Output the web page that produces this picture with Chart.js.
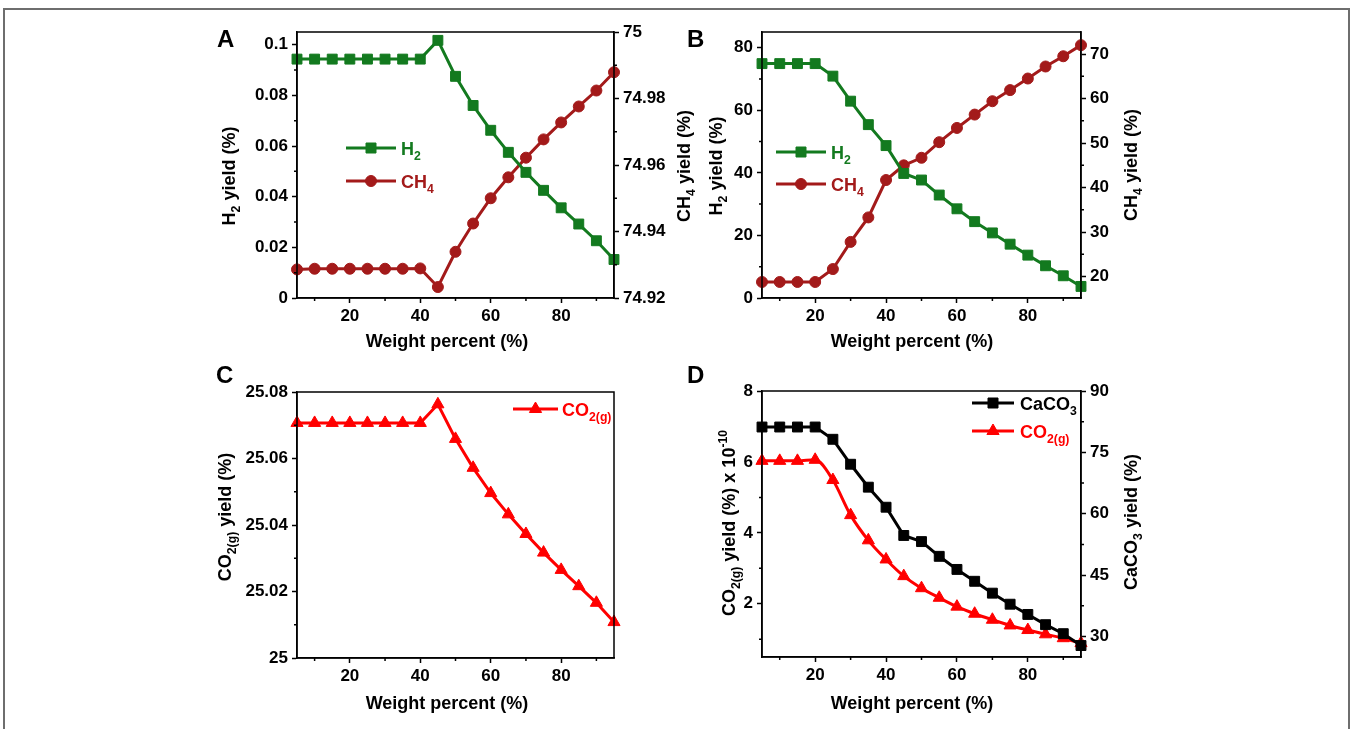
<!DOCTYPE html>
<html><head><meta charset="utf-8">
<script src="https://cdn.jsdelivr.net/npm/chart.js@4.4.1/dist/chart.umd.min.js"></script>
<style>
html,body{margin:0;padding:0;background:#fff;width:1352px;height:729px;overflow:hidden;position:relative}
#frame{position:absolute;left:3px;top:8px;width:1343px;height:760px;border:2px solid #6e6e6e;box-sizing:content-box}
canvas{position:absolute;left:0;top:0}
</style></head>
<body>
<div id="frame"></div>
<canvas id="cA" width="1352" height="729"></canvas>
<canvas id="cB" width="1352" height="729"></canvas>
<canvas id="cC" width="1352" height="729"></canvas>
<canvas id="cD" width="1352" height="729"></canvas>
<script>
// ---------- DATA ----------
const X = [5,10,15,20,25,30,35,40,45,50,55,60,65,70,75,80,85,90,95];
const X_TICKS = [20,40,60,80];
const X_MINOR = [10,30,50,70,90];

const A_H2  = [0.0943,0.0943,0.0943,0.0943,0.0943,0.0943,0.0943,0.0943,0.1017,0.0875,0.0760,0.0662,0.0575,0.0496,0.0425,0.0356,0.0292,0.0226,0.0152];
const A_CH4 = [74.9286,74.9288,74.9288,74.9288,74.9288,74.9288,74.9288,74.9289,74.9233,74.9339,74.9424,74.9500,74.9563,74.9622,74.9677,74.9728,74.9776,74.9824,74.9879];
const A_Y_TICKS  = [0,0.02,0.04,0.06,0.08,0.1];
const A_Y2_TICKS = [74.92,74.94,74.96,74.98,75];

const B_H2  = [74.9,74.9,74.9,74.9,70.9,62.9,55.4,48.7,39.8,37.7,32.9,28.5,24.4,20.8,17.2,13.7,10.3,7.1,3.7];
const B_CH4 = [18.8,18.8,18.8,18.8,21.7,27.8,33.3,41.7,45.0,46.7,50.2,53.4,56.4,59.4,61.9,64.5,67.2,69.5,72.0];
const B_Y_TICKS  = [0,20,40,60,80];
const B_Y2_TICKS = [20,30,40,50,60,70];

const C_CO2 = [25.0707,25.0707,25.0707,25.0707,25.0707,25.0707,25.0707,25.0707,25.0763,25.0659,25.0572,25.0496,25.0432,25.0373,25.0317,25.0265,25.0216,25.0166,25.0108];
const C_Y_TICKS = [25,25.02,25.04,25.06,25.08];

const D_CaCO3 = [81.2,81.2,81.2,81.2,78.2,72.1,66.5,61.6,54.7,53.2,49.6,46.4,43.5,40.6,37.9,35.4,32.9,30.7,27.8];
const D_CO2   = [6.03,6.03,6.03,6.06,5.49,4.50,3.79,3.25,2.78,2.44,2.17,1.92,1.72,1.55,1.39,1.26,1.14,1.03,0.89];
const D_Y_TICKS  = [2,4,6,8];
const D_Y2_TICKS = [30,45,60,75,90];

// ---------- STYLE ----------
const FONT = "'Liberation Sans', Arial, Helvetica, sans-serif";
const GREEN = '#137a1f';
const DRED  = '#a31a1a';
const RED   = '#ff0000';
const BLACK = '#000000';
const W = 1352, H = 729;

const fmt = v => String(parseFloat(Number(v).toFixed(4)));
const mids = arr => arr.slice(1).map((v,i)=>(v+arr[i])/2);

function rich(ctx, segs, x, y, size, color, rot, align) {
  ctx.save();
  ctx.translate(x, y);
  if (rot) ctx.rotate(rot);
  const parts = segs.map(([t, m]) => {
    const fs = m ? size * 0.68 : size;
    ctx.font = `bold ${fs}px ${FONT}`;
    return {t, m, fs, w: ctx.measureText(t).width};
  });
  const total = parts.reduce((a, p) => a + p.w, 0);
  let cx = align === 'left' ? 0 : -total / 2;
  ctx.fillStyle = color; ctx.textBaseline = 'alphabetic'; ctx.textAlign = 'left';
  for (const p of parts) {
    ctx.font = `bold ${p.fs}px ${FONT}`;
    const dy = p.m === 'sub' ? size * 0.3 : p.m === 'sup' ? -size * 0.42 : 0;
    ctx.fillText(p.t, cx, dy);
    cx += p.w;
  }
  ctx.restore();
}

function marker(ctx, style, x, y, color) {
  ctx.save();
  ctx.fillStyle = color; ctx.strokeStyle = color; ctx.lineWidth = 1;
  ctx.beginPath();
  if (style === 'rect') { ctx.rect(x - 5, y - 5, 10, 10); }
  else if (style === 'circle') { ctx.arc(x, y, 5.5, 0, Math.PI * 2); }
  else if (style === 'triangle') { ctx.moveTo(x, y - 7); ctx.lineTo(x + 6.1, y + 3.5); ctx.lineTo(x - 6.1, y + 3.5); ctx.closePath(); }
  ctx.fill(); ctx.stroke();
  ctx.restore();
}

const decoPlugin = {
  id: 'deco',
  afterDraw(chart, args, o) {
    const ctx = chart.ctx, ca = chart.chartArea;
    ctx.save();
    ctx.strokeStyle = '#000'; ctx.lineWidth = 1.5;
    ctx.strokeRect(ca.left, ca.top, ca.right - ca.left, ca.bottom - ca.top);
    ctx.beginPath();
    const xs = chart.scales.x;
    for (const v of X_MINOR) { const p = xs.getPixelForValue(v); ctx.moveTo(p, ca.bottom); ctx.lineTo(p, ca.bottom + 3); }
    if (o.minorY) { const s = chart.scales.y; for (const v of o.minorY) { const p = s.getPixelForValue(v); ctx.moveTo(ca.left - 3, p); ctx.lineTo(ca.left, p); } }
    if (o.minorY2) { const s = chart.scales.y2; for (const v of o.minorY2) { const p = s.getPixelForValue(v); ctx.moveTo(ca.right, p); ctx.lineTo(ca.right + 3, p); } }
    ctx.stroke();
    // panel letter
    ctx.fillStyle = '#000'; ctx.font = `bold 24px ${FONT}`; ctx.textAlign = 'left'; ctx.textBaseline = 'alphabetic';
    ctx.fillText(o.letter[0], o.letter[1], o.letter[2]);
    // axis titles
    for (const t of o.titles) rich(ctx, t.segs, t.x, t.y, 18, '#000', t.rot ? -Math.PI / 2 : 0, 'center');
    // legend
    for (const l of o.legend) {
      ctx.strokeStyle = l.color; ctx.lineWidth = 3;
      ctx.beginPath(); ctx.moveTo(l.x1, l.y); ctx.lineTo(l.x2, l.y); ctx.stroke();
      marker(ctx, l.style, (l.x1 + l.x2) / 2, l.y, l.color);
      rich(ctx, l.segs, l.tx, l.y + 6.5, 18, l.color, 0, 'left');
    }
    ctx.restore();
  }
};

function yScale(pos, min, max, ticksArr) {
  return {
    type: 'linear', position: pos, min, max,
    afterBuildTicks: s => { s.ticks = ticksArr.map(v => ({value: v})); },
    afterFit: s => { s.width = 60; },
    grid: {drawOnChartArea: false, drawTicks: true, tickLength: 5, tickWidth: 1.5, tickColor: '#000'},
    border: {display: true, color: '#000', width: 1.5},
    ticks: {color: '#000', autoSkip: false, font: {family: FONT, size: 17, weight: 'bold'}, padding: 4, callback: v => fmt(v)}
  };
}
function xScale() {
  return {
    type: 'linear', position: 'bottom', min: 5, max: 95,
    afterBuildTicks: s => { s.ticks = X_TICKS.map(v => ({value: v})); },
    afterFit: s => { s.height = 40; },
    grid: {drawOnChartArea: false, drawTicks: true, tickLength: 5, tickWidth: 1.5, tickColor: '#000'},
    border: {display: true, color: '#000', width: 1.5},
    ticks: {color: '#000', autoSkip: false, maxRotation: 0, font: {family: FONT, size: 17, weight: 'bold'}, padding: 3, callback: v => fmt(v)}
  };
}
function ds(vals, axis, color, style, r, extra) {
  return Object.assign({
    data: X.map((x, i) => ({x, y: vals[i]})), yAxisID: axis,
    borderColor: color, backgroundColor: color, borderWidth: 3,
    pointStyle: style, pointRadius: r, pointHoverRadius: r, pointBorderWidth: 1,
    pointBackgroundColor: color, pointBorderColor: color, clip: false, tension: 0
  }, extra || {});
}

function makePanel(id, area, scales, datasets, deco) {
  const hasRight = !!scales.y2;
  new Chart(document.getElementById(id), {
    type: 'line',
    data: {datasets},
    options: {
      responsive: false, animation: false, devicePixelRatio: 1, events: [],
      layout: {padding: {left: area.l - 60, top: area.t, right: W - area.r - (hasRight ? 60 : 0), bottom: H - area.b - 40}},
      scales,
      plugins: {legend: {display: false}, tooltip: {enabled: false}, deco}
    },
    plugins: [decoPlugin]
  });
}

// ---------- PANEL A ----------
makePanel('cA', {l: 297, t: 32, r: 614, b: 298},
  {x: xScale(), y: yScale('left', 0, 0.105, A_Y_TICKS), y2: yScale('right', 74.92, 75, A_Y2_TICKS)},
  [ds(A_H2, 'y', GREEN, 'rect', 7), ds(A_CH4, 'y2', DRED, 'circle', 5.5)],
  {letter: ['A', 217, 47], minorY: mids(A_Y_TICKS).concat([]), minorY2: mids(A_Y2_TICKS),
   titles: [
     {segs: [['Weight percent (%)']], x: 447, y: 347},
     {segs: [['H'], ['2', 'sub'], [' yield (%)']], x: 235, y: 176, rot: true},
     {segs: [['CH'], ['4', 'sub'], [' yield (%)']], x: 690, y: 166, rot: true}],
   legend: [
     {color: GREEN, style: 'rect', x1: 346, x2: 396, y: 148, tx: 401, segs: [['H'], ['2', 'sub']]},
     {color: DRED, style: 'circle', x1: 346, x2: 396, y: 181, tx: 401, segs: [['CH'], ['4', 'sub']]}]});

// ---------- PANEL B ----------
makePanel('cB', {l: 762, t: 32, r: 1081, b: 298},
  {x: xScale(), y: yScale('left', 0, 85, B_Y_TICKS), y2: yScale('right', 15.2, 74.95, B_Y2_TICKS)},
  [ds(B_H2, 'y', GREEN, 'rect', 7), ds(B_CH4, 'y2', DRED, 'circle', 5.5)],
  {letter: ['B', 687, 47], minorY: mids(B_Y_TICKS), minorY2: mids(B_Y2_TICKS),
   titles: [
     {segs: [['Weight percent (%)']], x: 912, y: 347},
     {segs: [['H'], ['2', 'sub'], [' yield (%)']], x: 722, y: 166, rot: true},
     {segs: [['CH'], ['4', 'sub'], [' yield (%)']], x: 1137, y: 165, rot: true}],
   legend: [
     {color: GREEN, style: 'rect', x1: 776, x2: 826, y: 152, tx: 831, segs: [['H'], ['2', 'sub']]},
     {color: DRED, style: 'circle', x1: 776, x2: 826, y: 184, tx: 831, segs: [['CH'], ['4', 'sub']]}]});

// ---------- PANEL C ----------
makePanel('cC', {l: 297, t: 392, r: 614, b: 658},
  {x: xScale(), y: yScale('left', 25, 25.08, C_Y_TICKS)},
  [ds(C_CO2, 'y', RED, 'triangle', 7)],
  {letter: ['C', 216, 383], minorY: mids(C_Y_TICKS),
   titles: [
     {segs: [['Weight percent (%)']], x: 447, y: 709},
     {segs: [['CO'], ['2(g)', 'sub'], [' yield (%)']], x: 231, y: 517, rot: true}],
   legend: [
     {color: RED, style: 'triangle', x1: 513, x2: 558, y: 409, tx: 562, segs: [['CO'], ['2(g)', 'sub']]}]});

// ---------- PANEL D ----------
makePanel('cD', {l: 762, t: 391, r: 1081, b: 657},
  {x: xScale(), y: yScale('left', 0.5, 8, D_Y_TICKS), y2: yScale('right', 25, 90, D_Y2_TICKS)},
  [ds(D_CaCO3, 'y2', BLACK, 'rect', 7), ds(D_CO2, 'y', RED, 'triangle', 7, {cubicInterpolationMode: 'monotone'})],
  {letter: ['D', 687, 383], minorY: [1, 3, 5, 7], minorY2: mids(D_Y2_TICKS),
   titles: [
     {segs: [['Weight percent (%)']], x: 912, y: 709},
     {segs: [['CO'], ['2(g)', 'sub'], [' yield (%) x 10'], ['-10', 'sup']], x: 735, y: 523, rot: true},
     {segs: [['CaCO'], ['3', 'sub'], [' yield (%)']], x: 1137, y: 522, rot: true}],
   legend: [
     {color: BLACK, style: 'rect', x1: 972, x2: 1014, y: 403, tx: 1020, segs: [['CaCO'], ['3', 'sub']]},
     {color: RED, style: 'triangle', x1: 972, x2: 1014, y: 431, tx: 1020, segs: [['CO'], ['2(g)', 'sub']]}]});
</script>
</body></html>
